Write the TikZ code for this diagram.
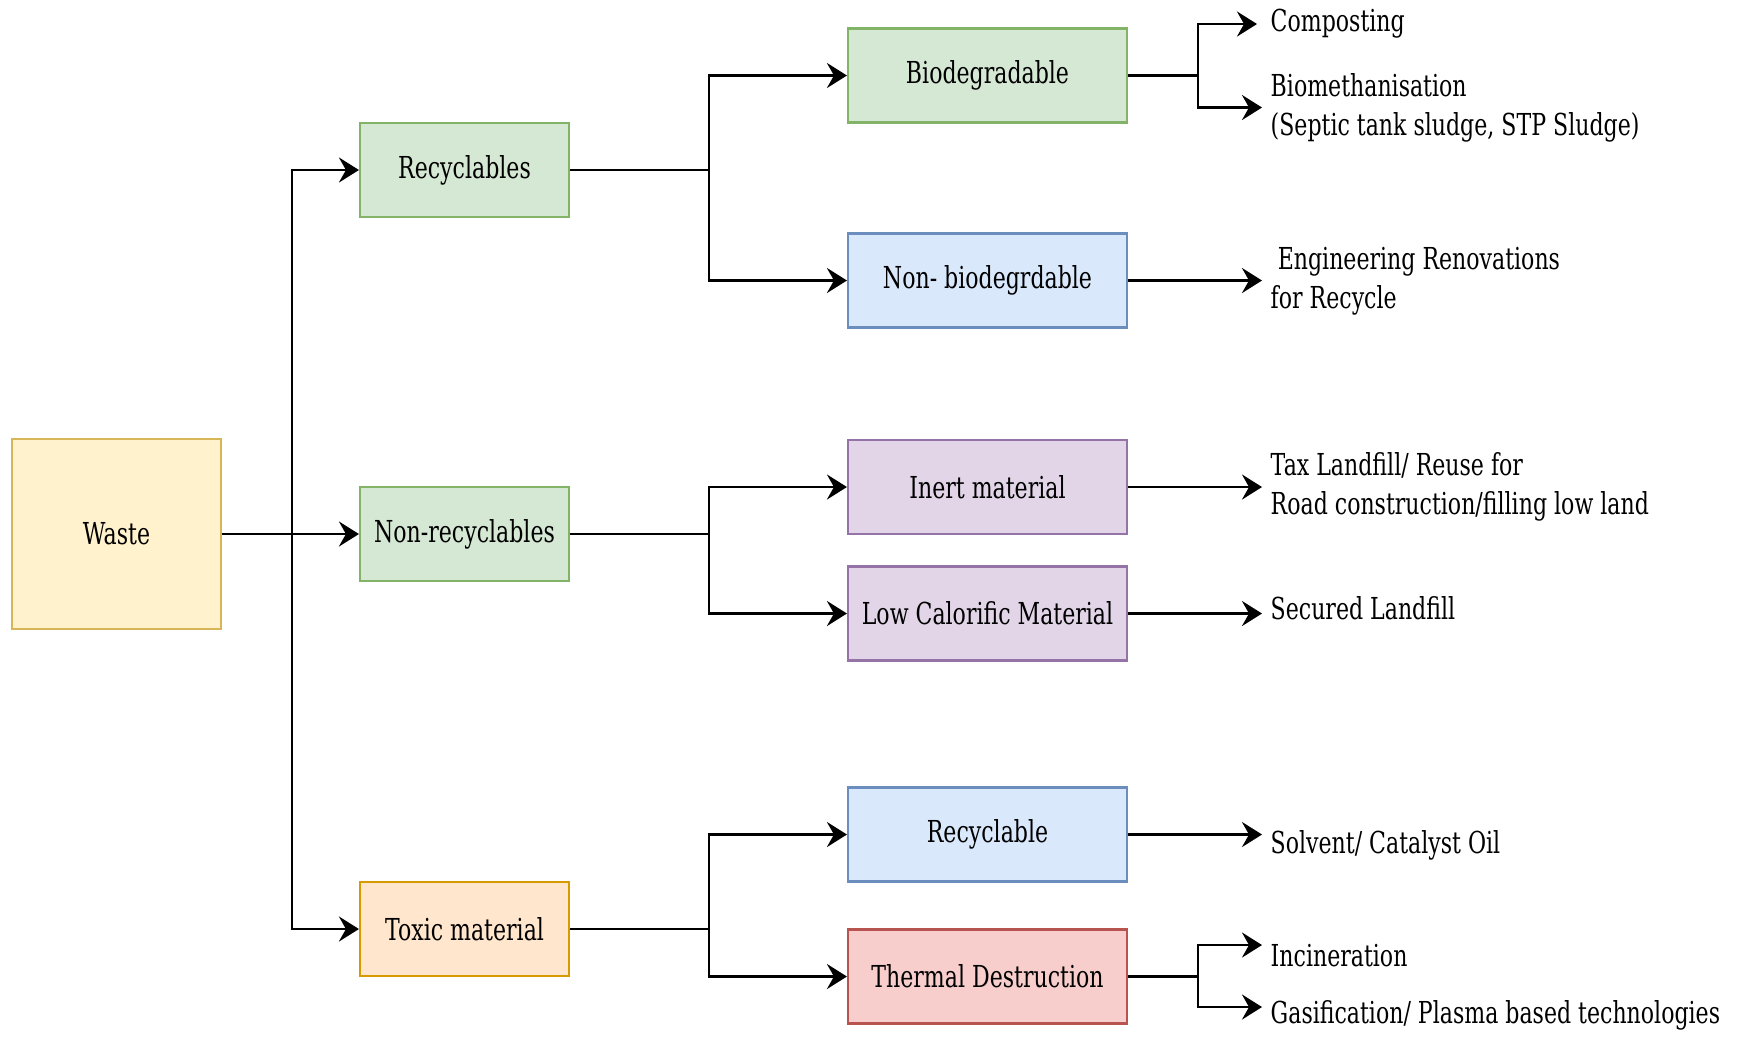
\documentclass[tikz,border=0pt]{standalone}
\usepackage{fontspec}
\setmainfont{DejaVu Serif}[FakeStretch=0.73]
\usetikzlibrary{arrows.meta, positioning}

\definecolor{ylwfill}{HTML}{FFF2CC}\definecolor{ylwdraw}{HTML}{D6B656}
\definecolor{grnfill}{HTML}{D5E8D4}\definecolor{grndraw}{HTML}{82B366}
\definecolor{blufill}{HTML}{DAE8FC}\definecolor{bludraw}{HTML}{6C8EBF}
\definecolor{prpfill}{HTML}{E1D5E7}\definecolor{prpdraw}{HTML}{9673A6}
\definecolor{orgfill}{HTML}{FFE6CC}\definecolor{orgdraw}{HTML}{D79B00}
\definecolor{redfill}{HTML}{F8CECC}\definecolor{reddraw}{HTML}{B85450}

\begin{document}
\begin{tikzpicture}[
    >={Stealth[length=2mm, width=2.5mm, inset=0.7mm]},
    txt/.style={font=\fontsize{8.6}{11.1}\selectfont},
    % Box styles
    box/.style={rectangle, txt, line width=0.6pt, inner sep=2pt, minimum height=0.94cm},
    catbox/.style={box, minimum width=2.09cm},
    subbox/.style={box, minimum width=2.79cm},
    % Outcome text style
    outcome/.style={txt, anchor=west, inner sep=0pt, align=left},
    % Connector styles
    flow/.style={->, line width=0.8pt},
    joint/.style={line width=0.8pt}
]
    \useasboundingbox (0,0) rectangle (17.39,-10.38);

    % === ROOT ===
    \node[box, minimum width=2.09cm, minimum height=1.90cm, fill=ylwfill, draw=ylwdraw] (waste) at (1.165,-5.34) {Waste};

    % === CATEGORIES ===
    \node[catbox, fill=grnfill, draw=grndraw] (recyc) at (4.645,-1.70) {Recyclables};
    \node[catbox, fill=grnfill, draw=grndraw] (nonrec) at (4.645,-5.34) {Non-recyclables};
    \node[catbox, fill=orgfill, draw=orgdraw] (toxic) at (4.645,-9.29) {Toxic material};

    % === SUB CATEGORIES ===
    \node[subbox, fill=grnfill, draw=grndraw] (bio) at (9.875,-0.755) {Biodegradable};
    \node[subbox, fill=blufill, draw=bludraw] (nonbio) at (9.875,-2.805) {Non- biodegrdable};
    \node[subbox, fill=prpfill, draw=prpdraw] (inert) at (9.875,-4.87) {Inert material};
    \node[subbox, fill=prpfill, draw=prpdraw] (lowcal) at (9.875,-6.135) {Low Calorific Material};
    \node[subbox, fill=blufill, draw=bludraw] (rcyl) at (9.875,-8.345) {Recyclable};
    \node[subbox, fill=redfill, draw=reddraw] (thermal) at (9.875,-9.765) {Thermal Destruction};

    % === OUTCOMES ===
    \node[outcome] (compost) at (12.70,-0.24) {Composting};
    \node[outcome] (biometh) at (12.70,-1.075) {Biomethanisation\\(Septic tank sludge, STP Sludge)};
    \node[outcome] (engren) at (12.70,-2.81) {\hspace{2pt}Engineering Renovations\\for Recycle};
    \node[outcome] (taxland) at (12.70,-4.865) {Tax Landfill/ Reuse for\\Road construction/filling low land};
    \node[outcome] (secured) at (12.70,-6.08) {Secured Landfill};
    \node[outcome] (solvent) at (12.70,-8.45) {Solvent/ Catalyst Oil};
    \node[outcome] (incin) at (12.70,-9.56) {Incineration};
    \node[outcome] (gasif) at (12.70,-10.15) {Gasification/ Plasma based technologies};

    % Split points
    \coordinate[right=0.70cm of waste.east] (splitw);
    \coordinate[right=1.39cm of recyc.east] (splitr);
    \coordinate[right=1.39cm of nonrec.east] (splitn);
    \coordinate[right=1.39cm of toxic.east] (splitt);
    \coordinate[right=0.70cm of bio.east] (splitb);
    \coordinate[right=0.70cm of thermal.east] (splitd);

    % === CONNECTORS ===
    \draw[flow] (waste.east) -- (nonrec.west);
    \draw[flow] (splitw) |- (recyc.west);
    \draw[flow] (splitw) |- (toxic.west);

    \draw[joint] (recyc.east) -- (splitr);
    \draw[flow] (splitr) |- (bio.west);
    \draw[flow] (splitr) |- (nonbio.west);

    \draw[joint] (nonrec.east) -- (splitn);
    \draw[flow] (splitn) |- (inert.west);
    \draw[flow] (splitn) |- (lowcal.west);

    \draw[joint] (toxic.east) -- (splitt);
    \draw[flow] (splitt) |- (rcyl.west);
    \draw[flow] (splitt) |- (thermal.west);

    % to outcomes
    \draw[joint] (bio.east) -- (splitb);
    \draw[flow, shorten >=1.3mm] (splitb) |- (compost.west);
    \draw[flow, shorten >=0.8mm] (splitb) |- (biometh.west);
    \draw[flow, shorten >=0.8mm] (nonbio.east) -- (nonbio.east -| engren.west);
    \draw[flow, shorten >=0.8mm] (inert.east) -- (inert.east -| taxland.west);
    \draw[flow, shorten >=0.8mm] (lowcal.east) -- (lowcal.east -| secured.west);
    \draw[flow, shorten >=0.8mm] (rcyl.east) -- (rcyl.east -| solvent.west);
    \draw[joint] (thermal.east) -- (splitd);
    \draw[flow, shorten >=0.8mm] (splitd) |- ([yshift=1.1mm]incin.west);
    \draw[flow, shorten >=0.8mm] (splitd) |- ([yshift=0.8mm]gasif.west);

\end{tikzpicture}
\end{document}
